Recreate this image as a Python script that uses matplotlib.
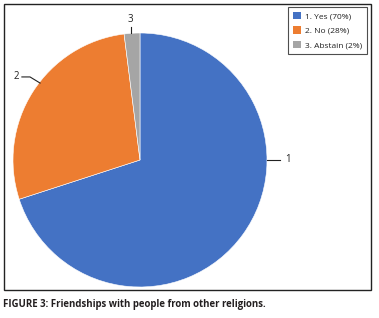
import matplotlib
matplotlib.use('Agg')
import matplotlib.pyplot as plt
from matplotlib.patches import Rectangle, Patch

labels = ['1', '2', '3']
legend_labels = ['1. Yes (70%)', '2. No (28%)', '3. Abstain (2%)']
values = [70, 28, 2]
colors = ['#4472C4', '#ED7D31', '#A5A5A5']

W, H = 379, 318
fig = plt.figure(figsize=(W / 100, H / 100), dpi=100)
plt.rcParams['font.family'] = ['Open Sans', 'DejaVu Sans']

# outer frame
fig.patches.append(Rectangle((4 / W, 1 - 290 / H), 367 / W, 286 / H,
                             transform=fig.transFigure, fill=False,
                             edgecolor='#222222', linewidth=1.0))

cx, cy, r = 140, 160, 127
ax = fig.add_axes([(cx - r) / W, 1 - (cy + r) / H, 2 * r / W, 2 * r / H])
ax.pie(values, colors=colors, startangle=90, counterclock=False,
       wedgeprops={'linewidth': 0.4, 'edgecolor': 'white'})
ax.set_xlim(-1, 1)
ax.set_ylim(-1, 1)
ax.set_aspect('equal')
ax.axis('off')

# data labels with leader lines
ax.plot([1.0, 1.1], [0, 0], color='#222222', lw=0.8, clip_on=False)
ax.text(1.14, 0, labels[0], fontsize=7, va='center', ha='left', color='#222222')
ax.plot([-0.787, -0.866, -0.93], [0.606, 0.654, 0.654], color='#222222', lw=0.8, clip_on=False)
ax.text(-0.95, 0.654, labels[1], fontsize=7, va='center', ha='right', color='#222222')
ax.plot([-0.071, -0.071], [1.0, 1.05], color='#222222', lw=0.8, clip_on=False)
ax.text(-0.075, 1.06, labels[2], fontsize=7, va='bottom', ha='center', color='#222222')

handles = [Patch(facecolor=c, edgecolor='none') for c in colors]
leg = fig.legend(handles, legend_labels, loc='upper right',
                 bbox_to_anchor=(367 / W, 1 - 7 / H), fontsize=6,
                 frameon=True, fancybox=False, edgecolor='#222222',
                 handlelength=1.0, handleheight=1.0, handletextpad=0.45,
                 labelspacing=0.7, borderpad=0.6, borderaxespad=0)
leg.get_frame().set_linewidth(0.8)
for t in leg.get_texts():
    t.set_color('#222222')

fig.text(3 / W, 1 - 305 / H, 'FIGURE 3: Friendships with people from other religions.',
         fontsize=6.9, fontweight='bold', color='#231F20', va='center', ha='left')

fig.savefig('out.png', dpi=100)
